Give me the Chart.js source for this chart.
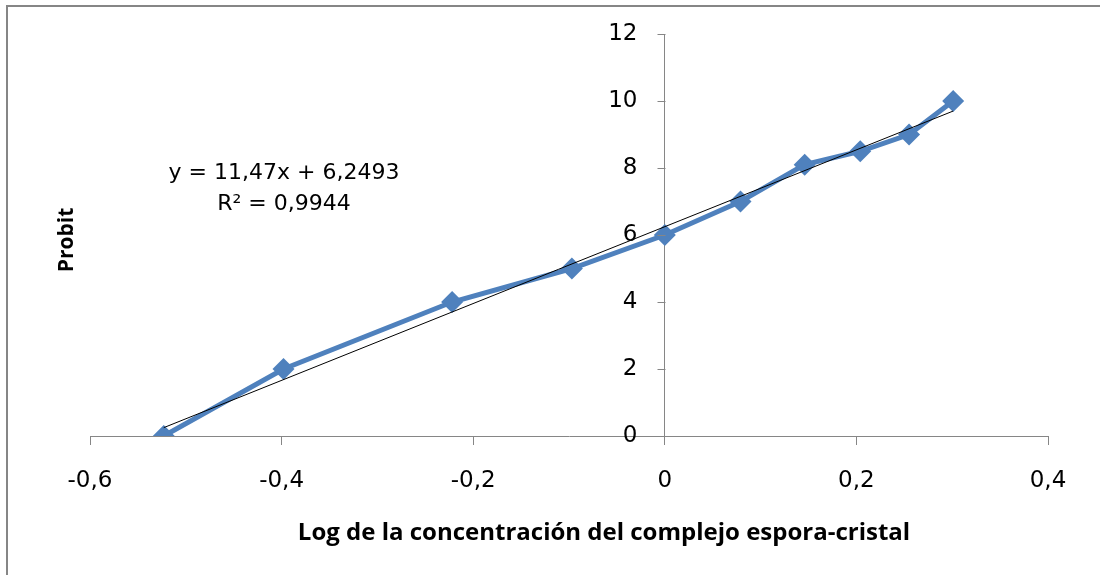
<!DOCTYPE html>
<html>
<head>
<meta charset="utf-8">
<script src="https://cdn.jsdelivr.net/npm/chart.js@4/dist/chart.umd.min.js"></script>
<style>
  html, body { margin: 0; padding: 0; background: #fff; }
  #wrap { position: relative; width: 1100px; height: 575px; }
  #frame { position: absolute; left: 6px; top: 5px; right: 0; bottom: 0;
           border-top: 2px solid #868686; border-left: 2px solid #868686; }
</style>
</head>
<body>
<div id="wrap">
  <div id="frame"></div>
  <canvas id="myChart" width="1100" height="575"></canvas>
</div>
<script>
// log concentration vs probit
const logConc = [-0.523, -0.398, -0.222, -0.097, 0, 0.079, 0.146, 0.204, 0.255, 0.301];
const probit = [0, 2, 4, 5, 6, 7, 8.1, 8.5, 9, 10];

// linear trendline ends
const trendX = [-0.523, 0.301];
const trendY = [0.25, 9.70];

const eqLines = ['y = 11,47x + 6,2493', 'R² = 0,9944'];
const yTitle = 'Probit';
const xTitle = 'Log de la concentración del complejo espora-cristal';

const fmt = v => (Math.abs(v) < 1e-9 ? '0' : v.toFixed(1).replace('.', ','));

// y axis sits at x = 0, so its labels and tick marks are drawn here
const yAxisPlugin = {
    id: 'yAxisLabels',
    afterDraw(chart) {
        const ctx = chart.ctx;
        const xs = chart.scales.x, ys = chart.scales.y;
        const ax = Math.round(xs.getPixelForValue(0)) + 0.5;
        ctx.save();
        ctx.strokeStyle = '#868686';
        ctx.lineWidth = 1;
        ctx.fillStyle = '#000';
        ctx.font = '23px "DejaVu Sans"';
        ctx.textAlign = 'right';
        ctx.textBaseline = 'middle';
        ys.ticks.forEach(t => {
            const py = Math.round(ys.getPixelForValue(t.value)) + 0.5;
            ctx.beginPath();
            ctx.moveTo(ax - 8, py);
            ctx.lineTo(ax, py);
            ctx.stroke();
            ctx.fillText(String(t.value), ax - 28, py);
        });
        ctx.restore();
    }
};

const textPlugin = {
    id: 'texts',
    afterDraw(chart) {
        const ctx = chart.ctx;
        ctx.save();
        ctx.fillStyle = '#000';
        ctx.textAlign = 'center';
        ctx.textBaseline = 'middle';

        ctx.font = '22px "DejaVu Sans"';
        ctx.fillText(eqLines[0], 284, 173);
        ctx.fillText(eqLines[1], 284, 204);

        ctx.font = 'bold 24px "Open Sans"';
        ctx.fillText(xTitle, 604, 533);

        ctx.font = 'bold 21px "Open Sans"';
        ctx.translate(67, 240);
        ctx.rotate(-Math.PI / 2);
        ctx.fillText(yTitle, 0, 0);
        ctx.restore();
    }
};

const ctx = document.getElementById('myChart').getContext('2d');
const chart = new Chart(ctx, {
    type: 'scatter',
    data: {
        datasets: [{
            label: 'Lineal',
            data: trendX.map((x, i) => ({x: x, y: trendY[i]})),
            showLine: true,
            borderColor: '#000',
            borderWidth: 1,
            pointRadius: 0,
            fill: false
        }, {
            label: 'Probit',
            data: logConc.map((x, i) => ({x: x, y: probit[i]})),
            showLine: true,
            borderColor: '#4F81BD',
            backgroundColor: '#4F81BD',
            borderWidth: 5,
            pointStyle: 'rectRot',
            pointRadius: 11,
            pointBorderWidth: 0,
            fill: false
        }]
    },
    options: {
        responsive: false,
        animation: false,
        layout: { padding: { left: 90, right: 52, top: 34, bottom: 139 } },
        plugins: { legend: { display: false }, tooltip: { enabled: false } },
        scales: {
            x: {
                type: 'linear',
                min: -0.6, max: 0.4,
                position: { y: 0 },
                ticks: { stepSize: 0.2, callback: v => fmt(v), color: '#000',
                         font: { family: 'DejaVu Sans', size: 23 }, padding: 23, maxRotation: 0 },
                grid: { drawOnChartArea: false, drawTicks: true, tickLength: 8, color: '#868686' },
                border: { color: '#868686', width: 1 }
            },
            y: {
                type: 'linear',
                min: 0, max: 12,
                position: { x: 0 },
                ticks: { stepSize: 2, display: false },
                grid: { display: false },
                border: { color: '#868686', width: 1 }
            }
        }
    },
    plugins: [yAxisPlugin, textPlugin]
});
</script>
</body>
</html>
